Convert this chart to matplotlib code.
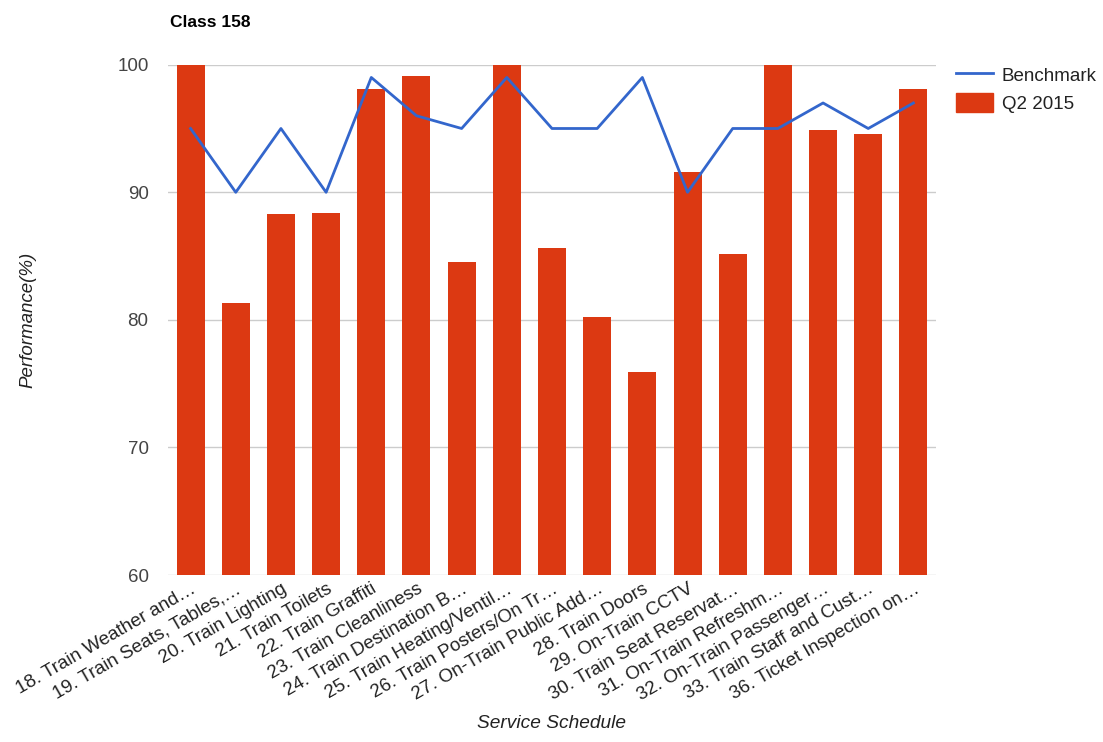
import matplotlib
matplotlib.use("Agg")
import matplotlib.pyplot as plt
from matplotlib.lines import Line2D
from matplotlib.patches import Patch
import numpy as np

categories = [
    "18. Train Weather and…", "19. Train Seats, Tables,…", "20. Train Lighting",
    "21. Train Toilets", "22. Train Graffiti", "23. Train Cleanliness",
    "24. Train Destination B…", "25. Train Heating/Ventil…", "26. Train Posters/On Tr…",
    "27. On-Train Public Add…", "28. Train Doors", "29. On-Train CCTV",
    "30. Train Seat Reservat…", "31. On-Train Refreshm…", "32. On-Train Passenger…",
    "33. Train Staff and Cust…", "36. Ticket Inspection on…",
]
q2_2015 = [100, 81.3, 88.3, 88.4, 98.1, 99.1, 84.5, 100, 85.6, 80.2, 75.9, 91.6, 85.2, 100, 94.9, 94.6, 98.1]
benchmark = [95, 90, 95, 90, 99, 96, 95, 99, 95, 95, 99, 90, 95, 95, 97, 95, 97]

plt.rcParams["font.family"] = ["Liberation Sans", "DejaVu Sans"]
text_col = "#444444"

fig = plt.figure(figsize=(11.03, 7.42), dpi=100)
ax = fig.add_axes([0.1523, 0.225, 0.6963, 0.6878])

x = np.arange(len(categories))
ax.bar(x, q2_2015, width=0.62, color="#dc3912", zorder=2)
ax.plot(x, benchmark, color="#3366cc", linewidth=2, zorder=3)

ax.set_ylim(60, 100)
ax.set_xlim(-0.5, len(categories) - 0.5)
ax.set_yticks([60, 70, 80, 90, 100])
ax.grid(axis="y", color="#cccccc", linewidth=1, zorder=0)
ax.set_axisbelow(True)
for s in ax.spines.values():
    s.set_visible(False)
ax.tick_params(axis="y", length=0, labelsize=13.5, colors=text_col, pad=14)
ax.tick_params(axis="x", length=0, labelsize=13.5, colors="#222222", pad=4)
ax.set_xticks(x)
ax.set_xticklabels(categories, rotation=30, ha="right", rotation_mode="anchor")

ax.set_ylabel("Performance(%)", fontsize=13.5, style="italic", color="#222222")
ax.yaxis.set_label_coords(-0.171, 0.5)
ax.set_xlabel("Service Schedule", fontsize=13.8, style="italic", color="#222222", labelpad=8)

fig.text(0.154, 0.963, "Class 158", fontsize=12.5, weight="bold", color="#000000")

handles = [Line2D([0], [0], color="#3366cc", linewidth=2),
           Patch(color="#dc3912")]
ax.legend(handles, ["Benchmark", "Q2 2015"], loc="upper left",
          bbox_to_anchor=(1.004, 1.033), frameon=False, fontsize=13.5,
          handlelength=2.0, handleheight=1.2, handletextpad=0.45,
          labelspacing=0.45, labelcolor="#222222")

plt.savefig("out.png", dpi=100)
plt.close()
